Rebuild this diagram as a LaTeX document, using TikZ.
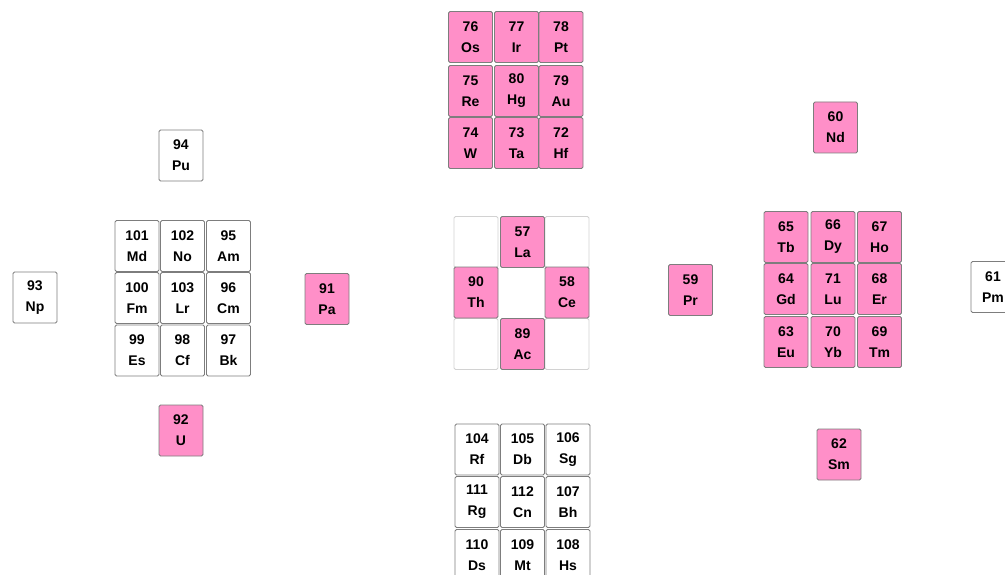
\documentclass[tikz,border=0pt]{standalone}
\usepackage{fontspec}
\setmainfont{Liberation Sans}
\definecolor{elpink}{RGB}{255,143,200}
\definecolor{eledge}{RGB}{125,125,125}
\tikzset{
  cell/.style={draw=eledge, line width=0.9pt, rounded corners=1.5pt,
    minimum width=44pt, minimum height=51pt, inner sep=0pt,
    align=center, font=\fontsize{14}{21}\selectfont\bfseries},
  pinkcell/.style={cell, fill=elpink},
  whitecell/.style={cell, fill=white},
  blankcell/.style={cell, draw=gray!35, fill=white},
  voidcell/.style={cell, draw=none, fill=white}
}
% \elem{name}{x}{y}{number}{symbol}{style}
\newcommand{\elem}[6]{\node[#6] (#1) at (#2,#3) {#4\\#5};}
\begin{document}
\begin{tikzpicture}[x=1pt,y=-1pt]
\useasboundingbox (0,0) rectangle (1005,575);
\clip (0,0) rectangle (1005,575);
\fill[white] (0,0) rectangle (1005,575);

% transition metals, period 6
\elem{Os}{470.5}{37}{76}{Os}{pinkcell}
\elem{Ir}{516.5}{37}{77}{Ir}{pinkcell}
\elem{Pt}{561}{37}{78}{Pt}{pinkcell}
\elem{Re}{470.5}{91}{75}{Re}{pinkcell}
\elem{Hg}{516.5}{91}{80}{Hg}{pinkcell}
\elem{Au}{561}{91}{79}{Au}{pinkcell}
\elem{W}{470.5}{143}{74}{W}{pinkcell}
\elem{Ta}{516.5}{143}{73}{Ta}{pinkcell}
\elem{Hf}{561}{143}{72}{Hf}{pinkcell}

% actinides
\elem{Pu}{181}{155.5}{94}{Pu}{whitecell}
\elem{Md}{137}{246}{101}{Md}{whitecell}
\elem{No}{182.5}{246}{102}{No}{whitecell}
\elem{Am}{228.5}{246}{95}{Am}{whitecell}
\elem{Fm}{137}{298}{100}{Fm}{whitecell}
\elem{Lr}{182.5}{298}{103}{Lr}{whitecell}
\elem{Cm}{228.5}{298}{96}{Cm}{whitecell}
\elem{Es}{137}{350.5}{99}{Es}{whitecell}
\elem{Cf}{182.5}{350.5}{98}{Cf}{whitecell}
\elem{Bk}{228.5}{350.5}{97}{Bk}{whitecell}
\elem{Np}{35}{297.5}{93}{Np}{whitecell}
\elem{Pa}{327}{299}{91}{Pa}{pinkcell}
\elem{U}{181}{430.5}{92}{U}{pinkcell}

% centre block
\node[blankcell] (c11) at (476,242) {};
\node[blankcell] (c13) at (567,242) {};
\node[voidcell] (c22) at (522.5,292.5) {};
\node[blankcell] (c31) at (476,344) {};
\node[blankcell] (c33) at (567,344) {};
\elem{La}{522.5}{242}{57}{La}{pinkcell}
\elem{Th}{476}{292.5}{90}{Th}{pinkcell}
\elem{Ce}{567}{292.5}{58}{Ce}{pinkcell}
\elem{Ac}{522.5}{344}{89}{Ac}{pinkcell}

% transactinides
\elem{Rf}{477}{449.5}{104}{Rf}{whitecell}
\elem{Db}{522.5}{449.5}{105}{Db}{whitecell}
\elem{Sg}{568}{449.5}{106}{Sg}{whitecell}
\elem{Rg}{477}{502}{111}{Rg}{whitecell}
\elem{Cn}{522.5}{502}{112}{Cn}{whitecell}
\elem{Bh}{568}{502}{107}{Bh}{whitecell}
\elem{Ds}{477}{555}{110}{Ds}{whitecell}
\elem{Mt}{522.5}{555}{109}{Mt}{whitecell}
\elem{Hs}{568}{555}{108}{Hs}{whitecell}

% lanthanides
\elem{Pr}{690.5}{290}{59}{Pr}{pinkcell}
\elem{Nd}{835.5}{127.5}{60}{Nd}{pinkcell}
\elem{Tb}{786}{237}{65}{Tb}{pinkcell}
\elem{Dy}{833}{237}{66}{Dy}{pinkcell}
\elem{Ho}{879.5}{237}{67}{Ho}{pinkcell}
\elem{Gd}{786}{289}{64}{Gd}{pinkcell}
\elem{Lu}{833}{289}{71}{Lu}{pinkcell}
\elem{Er}{879.5}{289}{68}{Er}{pinkcell}
\elem{Eu}{786}{342}{63}{Eu}{pinkcell}
\elem{Yb}{833}{342}{70}{Yb}{pinkcell}
\elem{Tm}{879.5}{342}{69}{Tm}{pinkcell}
\elem{Pm}{993}{287}{61}{Pm}{whitecell}
\elem{Sm}{839}{454.5}{62}{Sm}{pinkcell}
\end{tikzpicture}
\end{document}
